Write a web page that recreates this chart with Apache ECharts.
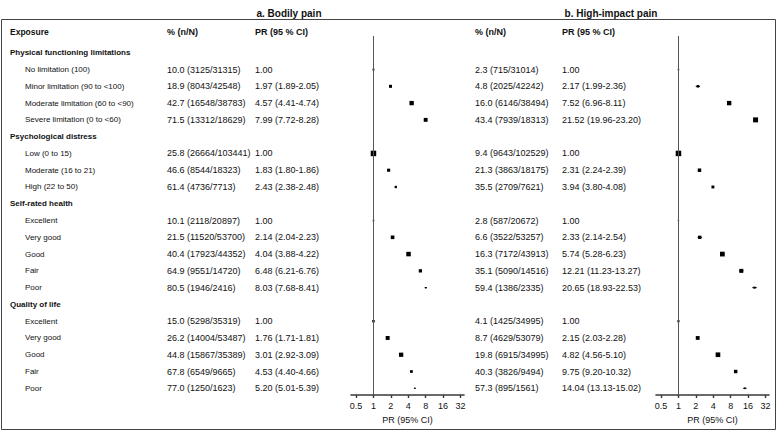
<!DOCTYPE html>
<html>
<head>
<meta charset="utf-8">
<script src="https://cdn.jsdelivr.net/npm/echarts@6/dist/echarts.min.js"></script>
<style>
  html, body { margin: 0; padding: 0; background: #fff; }
  #chart { width: 777px; height: 431px; }
</style>
</head>
<body>
<div id="chart"></div>
<script>
"use strict";

// Rows of the table; group headings have no values (null) in the series below.
const exposures = [
  "Physical functioning limitations",
  "No limitation (100)", "Minor limitation (90 to <100)",
  "Moderate limitation (60 to <90)", "Severe limitation (0 to <60)",
  "Psychological distress",
  "Low (0 to 15)", "Moderate (16 to 21)", "High (22 to 50)",
  "Self-rated health",
  "Excellent", "Very good", "Good", "Fair", "Poor",
  "Quality of life",
  "Excellent", "Very good", "Good", "Fair", "Poor",
];

// a. Bodily pain
const bodilyPct   = [null, 10.0, 18.9, 42.7, 71.5, null, 25.8, 46.6, 61.4, null, 10.1, 21.5, 40.4, 64.9, 80.5, null, 15.0, 26.2, 44.8, 67.8, 77.0];
const bodilyN     = [null, 3125, 8043, 16548, 13312, null, 26664, 8544, 4736, null, 2118, 11520, 17923, 9551, 1946, null, 5298, 14004, 15867, 6549, 1250];
const bodilyTotal = [null, 31315, 42548, 38783, 18629, null, 103441, 18323, 7713, null, 20897, 53700, 44352, 14720, 2416, null, 35319, 53487, 35389, 9665, 1623];
const bodilyPR    = [null, 1.00, 1.97, 4.57, 7.99, null, 1.00, 1.83, 2.43, null, 1.00, 2.14, 4.04, 6.48, 8.03, null, 1.00, 1.76, 3.01, 4.53, 5.20];
const bodilyLo    = [null, null, 1.89, 4.41, 7.72, null, null, 1.80, 2.38, null, null, 2.04, 3.88, 6.21, 7.68, null, null, 1.71, 2.92, 4.40, 5.01];
const bodilyHi    = [null, null, 2.05, 4.74, 8.28, null, null, 1.86, 2.48, null, null, 2.23, 4.22, 6.76, 8.41, null, null, 1.81, 3.09, 4.66, 5.39];

// b. High-impact pain
const highPct   = [null, 2.3, 4.8, 16.0, 43.4, null, 9.4, 21.3, 35.5, null, 2.8, 6.6, 16.3, 35.1, 59.4, null, 4.1, 8.7, 19.8, 40.3, 57.3];
const highN     = [null, 715, 2025, 6146, 7939, null, 9643, 3863, 2709, null, 587, 3522, 7172, 5090, 1386, null, 1425, 4629, 6915, 3826, 895];
const highTotal = [null, 31014, 42242, 38494, 18313, null, 102529, 18175, 7621, null, 20672, 53257, 43913, 14516, 2335, null, 34995, 53079, 34995, 9494, 1561];
const highPR    = [null, 1.00, 2.17, 7.52, 21.52, null, 1.00, 2.31, 3.94, null, 1.00, 2.33, 5.74, 12.21, 20.65, null, 1.00, 2.15, 4.82, 9.75, 14.04];
const highLo    = [null, null, 1.99, 6.96, 19.96, null, null, 2.24, 3.80, null, null, 2.14, 5.28, 11.23, 18.93, null, null, 2.03, 4.56, 9.20, 13.13];
const highHi    = [null, null, 2.36, 8.11, 23.20, null, null, 2.39, 4.08, null, null, 2.54, 6.23, 13.27, 22.53, null, null, 2.28, 5.10, 10.32, 15.02];

// x axis ticks (PR, log2 scale)
const prTicks = [0.5, 1, 2, 4, 8, 16, 32];

const FONT = "Arial, 'Liberation Sans', Helvetica, sans-serif";
const INK = "#111";
const ROW_MIN = -1, ROW_MAX = 20.4, HEADER_ROW = -1.25;
const TOP = 36, PLOT_H = 359;
const MAX_BOX = 5.5;
const PAD_LO = 0.29, PAD_HI = 0.2;   // axis line overhang, in doublings

const fmtPct = (p, n, t) => `${p.toFixed(1)} (${n}/${t})`;
const fmtPR = (pr, lo, hi) => lo == null ? pr.toFixed(2)
  : `${pr.toFixed(2)} (${lo.toFixed(2)}-${hi.toFixed(2)})`;

// table cells: [x, row, text, bold, fontSize]
const COL = { group: 10, item: 25, pctA: 167, prA: 255, pctB: 475, prB: 562 };
const cells = [
  [COL.group, HEADER_ROW, "Exposure", true, 8.5],
  [COL.pctA, HEADER_ROW, "% (n/N)", true, 9],
  [COL.prA, HEADER_ROW, "PR (95 % CI)", true, 9],
  [COL.pctB, HEADER_ROW, "% (n/N)", true, 9],
  [COL.prB, HEADER_ROW, "PR (95 % CI)", true, 9],
];
exposures.forEach((label, i) => {
  const group = bodilyPR[i] == null;
  cells.push([group ? COL.group : COL.item, i, label, group, 8]);
  if (group) return;
  cells.push([COL.pctA, i, fmtPct(bodilyPct[i], bodilyN[i], bodilyTotal[i]), false, 9]);
  cells.push([COL.prA, i, fmtPR(bodilyPR[i], bodilyLo[i], bodilyHi[i]), false, 9]);
  cells.push([COL.pctB, i, fmtPct(highPct[i], highN[i], highTotal[i]), false, 9]);
  cells.push([COL.prB, i, fmtPR(highPR[i], highLo[i], highHi[i]), false, 9]);
});

const rowAxis = (gridIndex) => ({
  type: "value", gridIndex, min: ROW_MIN, max: ROW_MAX, inverse: true, show: false,
});
const prAxis = (gridIndex) => ({
  type: "log", logBase: 2, gridIndex,
  min: prTicks[0] / 2 ** PAD_LO, max: prTicks[prTicks.length - 1] * 2 ** PAD_HI,
  axisLine: { show: true, onZero: false, lineStyle: { color: "#3a3a3a", width: 1.6 } },
  axisTick: { show: true, length: 3, customValues: prTicks,
              lineStyle: { color: "#3a3a3a", width: 1.4 } },
  axisLabel: { color: INK, fontSize: 9, fontFamily: FONT, margin: 6,
               customValues: prTicks, formatter: (v) => String(+v.toFixed(2)) },
  splitLine: { show: false },
  name: "PR (95% CI)", nameLocation: "middle", nameGap: 20,
  nameTextStyle: { color: INK, fontSize: 9, fontFamily: FONT },
});

function forestSeries(axisIndex, pr, lo, hi, events) {
  const maxRoot = Math.sqrt(Math.max(...events.filter((v) => v != null)));
  const data = [];
  pr.forEach((v, i) => { if (v != null) data.push([v, i]); });
  return {
    type: "custom", xAxisIndex: axisIndex, yAxisIndex: axisIndex, silent: true, z: 3,
    data, encode: { x: 0, y: 1 },
    renderItem(params, api) {
      const i = api.value(1);
      const c = api.coord([api.value(0), i]);
      const s = MAX_BOX * Math.sqrt(events[i]) / maxRoot;   // box area ~ events
      const children = [];
      if (lo[i] != null) {
        const a = api.coord([lo[i], i]), b = api.coord([hi[i], i]);
        children.push({ type: "line", shape: { x1: a[0], y1: c[1], x2: b[0], y2: c[1] },
                        style: { stroke: "#000", lineWidth: 1 } });
      }
      children.push({ type: "rect", shape: { x: c[0] - s / 2, y: c[1] - s / 2, width: s, height: s },
                      style: { fill: "#000" } });
      return { type: "group", children };
    },
    // null-effect line at PR = 1
    markLine: {
      silent: true, symbol: "none", animation: false,
      label: { show: false },
      lineStyle: { color: "#555", type: "solid", width: 1 },
      data: [{ xAxis: 1 }],
    },
  };
}

const chart = echarts.init(document.getElementById("chart"), null, { renderer: "svg" });
chart.setOption({
  animation: false,
  title: [
    { text: "a. Bodily pain", left: 284, top: 3, textAlign: "center",
      textStyle: { fontSize: 10, fontWeight: "bold", color: INK, fontFamily: FONT } },
    { text: "b. High-impact pain", left: 606, top: 3, textAlign: "center",
      textStyle: { fontSize: 10, fontWeight: "bold", color: INK, fontFamily: FONT } },
  ],
  grid: [
    { left: 351, top: TOP, width: 113, height: PLOT_H },   // a. bodily pain
    { left: 656, top: TOP, width: 113, height: PLOT_H },   // b. high-impact pain
    { left: 0, top: TOP, width: 777, height: PLOT_H },     // table text
  ],
  xAxis: [
    prAxis(0), prAxis(1),
    { type: "value", gridIndex: 2, min: 0, max: 777, show: false },
  ],
  yAxis: [rowAxis(0), rowAxis(1), rowAxis(2)],
  series: [
    forestSeries(0, bodilyPR, bodilyLo, bodilyHi, bodilyN),
    forestSeries(1, highPR, highLo, highHi, highN),
    {
      type: "custom", xAxisIndex: 2, yAxisIndex: 2, silent: true,
      data: cells.map((c) => [c[0], c[1]]), encode: { x: 0, y: 1 },
      renderItem(params, api) {
        const cell = cells[params.dataIndex];
        const p = api.coord([cell[0], cell[1]]);
        return {
          type: "text", x: p[0], y: p[1],
          style: {
            text: cell[2], fill: INK, fontFamily: FONT, fontSize: cell[4],
            fontWeight: cell[3] ? "bold" : "normal",
            align: "left", verticalAlign: "middle",
          },
        };
      },
    },
  ],
  graphic: [{
    type: "rect", silent: true,
    shape: { x: 1.5, y: 19.5, width: 774, height: 410 },
    style: { fill: null, stroke: "#444", lineWidth: 1 },
  }],
});
</script>
</body>
</html>
